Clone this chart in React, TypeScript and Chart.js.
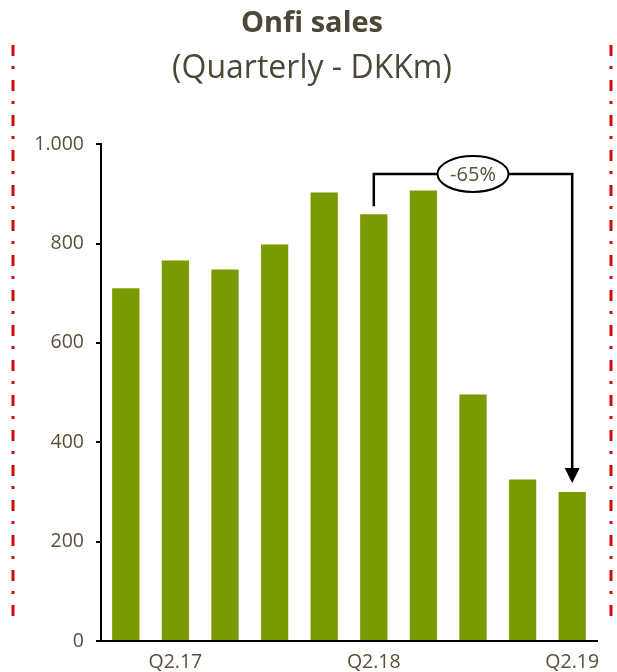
import React, { useEffect, useRef } from "react";
import { Chart, registerables } from "chart.js";

Chart.register(...registerables);

const categories = ["Q1.17", "Q2.17", "Q3.17", "Q4.17", "Q1.18", "Q2.18", "Q3.18", "Q4.18", "Q1.19", "Q2.19"];
const sales = [710, 766, 748, 798, 903, 859, 907, 496, 325, 300];
const yTicks = [0, 200, 400, 600, 800, 1000];
const titleText = "Onfi sales";
const subtitleText = "(Quarterly - DKKm)";
const compareFrom = 5;
const compareTo = 9;
const bracketLevel = 940;

const FONT = "'Open Sans', 'Noto Sans', sans-serif";
const TEXT = "#4b4838";
const TICK = "#5a5038";
const GREEN = "#7a9a01";
const RED = "#d10a0a";

const decorPlugin = {
  id: "decor",
  beforeDraw(chart: any) {
    const ctx = chart.ctx;
    ctx.save();
    ctx.strokeStyle = RED;
    ctx.lineWidth = 3;
    ctx.setLineDash([11, 10, 3, 11]);
    [13, 611].forEach((x) => {
      ctx.beginPath();
      ctx.moveTo(x, 45);
      ctx.lineTo(x, 625);
      ctx.stroke();
    });
    ctx.restore();
  },
  afterDatasetsDraw(chart: any) {
    const ctx = chart.ctx;
    const xs = chart.scales.x;
    const ys = chart.scales.y;
    const x1 = xs.getPixelForValue(compareFrom);
    const x2 = xs.getPixelForValue(compareTo);
    const yTop = ys.getPixelForValue(bracketLevel);
    const y1 = ys.getPixelForValue(sales[compareFrom]) - 8;
    const tip = ys.getPixelForValue(sales[compareTo]) - 9;
    ctx.save();
    ctx.strokeStyle = "#000";
    ctx.fillStyle = "#000";
    ctx.lineWidth = 2.5;
    ctx.beginPath();
    ctx.moveTo(x1, y1);
    ctx.lineTo(x1, yTop);
    ctx.lineTo(x2, yTop);
    ctx.lineTo(x2, tip - 14);
    ctx.stroke();
    ctx.beginPath();
    ctx.moveTo(x2 - 7.5, tip - 15);
    ctx.lineTo(x2 + 7.5, tip - 15);
    ctx.lineTo(x2, tip);
    ctx.closePath();
    ctx.fill();
    const cx = (x1 + x2) / 2;
    ctx.beginPath();
    ctx.ellipse(cx, yTop, 35.5, 18, 0, 0, Math.PI * 2);
    ctx.fillStyle = "#fff";
    ctx.fill();
    ctx.lineWidth = 2;
    ctx.stroke();
    const pct = Math.round((sales[compareTo] / sales[compareFrom] - 1) * 100);
    ctx.fillStyle = TICK;
    ctx.font = `20px ${FONT}`;
    ctx.textAlign = "center";
    ctx.textBaseline = "middle";
    ctx.fillText(`${pct}%`, cx, yTop + 1);
    ctx.restore();
  },
};

export default function App() {
  const ref = useRef<HTMLCanvasElement | null>(null);
  useEffect(() => {
    if (!ref.current) return;
    const chart = new Chart(ref.current, {
      type: "bar",
      data: {
        labels: categories,
        datasets: [
          {
            data: sales,
            backgroundColor: GREEN,
            borderWidth: 0,
            barPercentage: 0.55,
            categoryPercentage: 1,
          },
        ],
      },
      options: {
        responsive: false,
        animation: false,
        layout: { padding: { left: 27, right: 20, top: 0, bottom: 0 } },
        plugins: {
          legend: { display: false },
          tooltip: { enabled: false },
          title: {
            display: true,
            text: titleText,
            color: TEXT,
            font: { family: FONT, size: 29, weight: "bold", lineHeight: 1.2 },
            padding: { top: 6, bottom: 0 },
          },
          subtitle: {
            display: true,
            text: subtitleText,
            color: TEXT,
            font: { family: FONT, size: 32, weight: "normal", lineHeight: 1.2 },
            padding: { top: 9, bottom: 56 },
          },
        },
        scales: {
          x: {
            grid: { display: false, drawTicks: false },
            border: { display: true, color: "#000", width: 2 },
            ticks: {
              autoSkip: false,
              maxRotation: 0,
              padding: 10,
              color: TICK,
              font: { family: FONT, size: 19.5 },
              callback: (v: any, i: number) => (categories[i].startsWith("Q2") ? categories[i] : ""),
            },
            afterFit: (s: any) => {
              s.height = 31;
            },
          },
          y: {
            min: 0,
            max: 1000,
            afterBuildTicks: (s: any) => {
              s.ticks = yTicks.map((v) => ({ value: v }));
            },
            grid: {
              drawOnChartArea: false,
              drawTicks: true,
              tickLength: 5,
              color: "#000",
              lineWidth: 2,
            },
            border: { display: true, color: "#000", width: 2 },
            ticks: {
              padding: 12,
              color: TICK,
              font: { family: FONT, size: 19.5 },
              callback: (v: any) => Number(v).toLocaleString("de-DE"),
            },
            afterFit: (s: any) => {
              s.width = 74;
            },
          },
        },
      },
      plugins: [decorPlugin],
    });
    return () => chart.destroy();
  }, []);
  return (
    <div style={{ position: "fixed", left: 0, top: 0, width: 617, height: 672, background: "#fff" }}>
      <canvas ref={ref} width={617} height={672} />
    </div>
  );
}
